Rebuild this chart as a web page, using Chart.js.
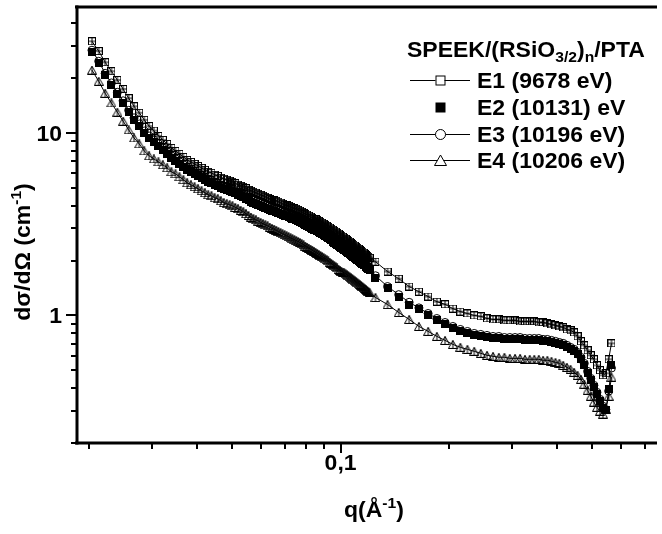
<!DOCTYPE html>
<html>
<head>
<meta charset="utf-8">
<title>SAXS curves</title>
<script src="https://cdn.jsdelivr.net/npm/chart.js@4.4.1/dist/chart.umd.min.js"></script>
<style>
   html, body { margin: 0; padding: 0; background: #fff; }
   canvas { display: block; }
</style>
</head>
<body>
<canvas id="saxsChart" width="662" height="534"></canvas>
<script>
// q values (1/A), shared by all four energies
const q = [
   0.0204, 0.0213, 0.0222, 0.0231, 0.0240, 0.0249, 0.0258, 0.0267, 0.0276, 0.0285,
   0.0294, 0.0303, 0.0312, 0.0321, 0.0330, 0.0339, 0.0348, 0.0357, 0.0366, 0.0375,
   0.0384, 0.0393, 0.0402, 0.0411, 0.0420, 0.0429, 0.0438, 0.0447, 0.0456, 0.0465,
   0.0474, 0.0483, 0.0492, 0.0501,
   0.0510, 0.0519, 0.0528, 0.0537, 0.0546, 0.0555, 0.0564, 0.0573, 0.0582, 0.0591,
   0.0600, 0.0609, 0.0618, 0.0627, 0.0636, 0.0645, 0.0654, 0.0663, 0.0672, 0.0681,
   0.0690, 0.0699, 0.0708, 0.0717, 0.0726, 0.0735, 0.0744, 0.0753, 0.0762, 0.0771,
   0.0780, 0.0789, 0.0798, 0.0807, 0.0816, 0.0825, 0.0834, 0.0843, 0.0852, 0.0861,
   0.0870, 0.0879, 0.0888, 0.0897, 0.0906, 0.0915, 0.0924, 0.0933, 0.0942, 0.0951,
   0.0960, 0.0969, 0.0978, 0.0987, 0.0996, 0.1005, 0.1014, 0.1023, 0.1032, 0.1041,
   0.1050, 0.1059, 0.1068, 0.1077, 0.1086, 0.1095, 0.1104, 0.1113, 0.1122, 0.1131,
   0.1140, 0.1149, 0.1158, 0.1167, 0.1176, 0.1185, 0.1194, 0.1203,
   0.125, 0.135, 0.145, 0.155, 0.165, 0.175, 0.185, 0.195, 0.205, 0.215,
   0.225, 0.235, 0.245, 0.255, 0.265, 0.275, 0.285, 0.295, 0.305, 0.315,
   0.325, 0.335, 0.345, 0.355, 0.365, 0.375, 0.385, 0.395, 0.405, 0.415,
   0.425, 0.435, 0.445, 0.455, 0.465, 0.475, 0.485, 0.495, 0.505, 0.515,
   0.525, 0.535, 0.545, 0.555, 0.565
];

const e1 = [
   31.8, 28.1, 24.4, 21.8, 19.5, 17.4, 15.5, 14.0, 12.9, 11.8,
   10.9, 10.3, 9.63, 9.16, 8.71, 8.28, 7.97, 7.68, 7.39, 7.12,
   6.94, 6.77, 6.60, 6.44, 6.28, 6.12, 6.05, 5.90, 5.82, 5.68,
   5.61, 5.54, 5.47, 5.40,
   5.30, 5.20, 5.13, 5.07, 4.97, 4.88, 4.82, 4.76, 4.70, 4.64,
   4.58, 4.53, 4.47, 4.41, 4.35, 4.30, 4.27, 4.25, 4.20, 4.15,
   4.09, 4.04, 4.01, 3.99, 3.94, 3.89, 3.86, 3.84, 3.79, 3.75,
   3.70, 3.65, 3.60, 3.56, 3.52, 3.48, 3.43, 3.39, 3.37, 3.35,
   3.30, 3.26, 3.22, 3.18, 3.14, 3.10, 3.06, 3.03, 2.99, 2.95,
   2.91, 2.88, 2.84, 2.81, 2.77, 2.74, 2.70, 2.67, 2.63, 2.60,
   2.57, 2.54, 2.50, 2.47, 2.44, 2.41, 2.38, 2.35, 2.32, 2.29,
   2.26, 2.24, 2.21, 2.18, 2.15, 2.13, 2.10, 2.07,
   1.97, 1.74, 1.59, 1.44, 1.35, 1.27, 1.19, 1.15, 1.09, 1.05,
   1.025, 1.0, 0.988, 0.963, 0.951, 0.951, 0.939, 0.939, 0.939, 0.927,
   0.927, 0.927, 0.927, 0.916, 0.916, 0.904, 0.893, 0.882, 0.871, 0.860,
   0.838, 0.828, 0.807, 0.768, 0.721, 0.686, 0.644, 0.605, 0.575, 0.533,
   0.501, 0.470, 0.482, 0.575, 0.703
];

const e2 = [
   27.7, 24.1, 20.7, 18.3, 16.3, 14.6, 13.0, 11.8, 10.9, 10.0,
   9.39, 8.93, 8.49, 8.07, 7.68, 7.30, 7.03, 6.77, 6.52, 6.28,
   6.12, 5.97, 5.82, 5.68, 5.54, 5.40, 5.33, 5.20, 5.13, 5.01,
   4.94, 4.88, 4.82, 4.76,
   4.67, 4.58, 4.52, 4.45, 4.36, 4.27, 4.21, 4.15, 4.09, 4.04,
   3.99, 3.94, 3.89, 3.84, 3.79, 3.75, 3.72, 3.69, 3.65, 3.61,
   3.56, 3.52, 3.49, 3.46, 3.42, 3.39, 3.36, 3.33, 3.29, 3.26,
   3.22, 3.18, 3.14, 3.10, 3.06, 3.03, 2.99, 2.95, 2.93, 2.91,
   2.87, 2.84, 2.80, 2.77, 2.73, 2.70, 2.67, 2.63, 2.58, 2.54,
   2.50, 2.47, 2.44, 2.41, 2.38, 2.35, 2.32, 2.29, 2.26, 2.24,
   2.21, 2.18, 2.15, 2.13, 2.10, 2.07, 2.04, 2.02, 1.99, 1.97,
   1.94, 1.92, 1.90, 1.88, 1.85, 1.83, 1.80, 1.78,
   1.61, 1.405, 1.27, 1.148, 1.078, 1.0, 0.939, 0.893, 0.849, 0.818,
   0.797, 0.778, 0.768, 0.758, 0.748, 0.748, 0.739, 0.739, 0.739, 0.739,
   0.730, 0.730, 0.730, 0.730, 0.721, 0.721, 0.712, 0.703, 0.694, 0.686,
   0.669, 0.652, 0.636, 0.612, 0.575, 0.533, 0.482, 0.441, 0.404, 0.370,
   0.339, 0.310, 0.302, 0.394, 0.533
];

const e3 = [
   28.4, 24.7, 21.2, 18.8, 16.7, 15.0, 13.3, 12.1, 11.2, 10.25,
   9.62, 9.15, 8.70, 8.27, 7.87, 7.48, 7.21, 6.94, 6.68, 6.44,
   6.27, 6.12, 5.97, 5.82, 5.68, 5.54, 5.46, 5.33, 5.26, 5.14,
   5.06, 5.00, 4.94, 4.88,
   4.79, 4.69, 4.63, 4.56, 4.47, 4.38, 4.32, 4.25, 4.19, 4.14,
   4.09, 4.04, 3.99, 3.94, 3.88, 3.84, 3.81, 3.78, 3.74, 3.70,
   3.65, 3.61, 3.58, 3.55, 3.51, 3.47, 3.44, 3.41, 3.37, 3.34,
   3.30, 3.26, 3.22, 3.18, 3.14, 3.11, 3.06, 3.02, 3.00, 2.98,
   2.94, 2.91, 2.87, 2.84, 2.80, 2.77, 2.74, 2.70, 2.64, 2.60,
   2.56, 2.53, 2.50, 2.47, 2.44, 2.41, 2.38, 2.35, 2.32, 2.30,
   2.27, 2.23, 2.20, 2.18, 2.15, 2.12, 2.09, 2.07, 2.04, 2.02,
   1.99, 1.97, 1.95, 1.93, 1.90, 1.88, 1.85, 1.82,
   1.65, 1.44, 1.30, 1.18, 1.10, 1.025, 0.962, 0.915, 0.870, 0.838,
   0.817, 0.797, 0.787, 0.777, 0.767, 0.767, 0.757, 0.757, 0.757, 0.757,
   0.748, 0.748, 0.748, 0.748, 0.739, 0.739, 0.730, 0.721, 0.711, 0.703,
   0.686, 0.668, 0.652, 0.627, 0.589, 0.546, 0.494, 0.452, 0.414, 0.379,
   0.347, 0.318, 0.305, 0.385, 0.515
];

const e4 = [
   22.1, 19.2, 16.5, 14.6, 13.0, 11.6, 10.4, 9.39, 8.71, 7.97,
   7.49, 7.21, 6.94, 6.69, 6.44, 6.12, 5.97, 5.75, 5.54, 5.33,
   5.20, 5.07, 4.94, 4.82, 4.70, 4.58, 4.53, 4.41, 4.36, 4.25,
   4.15, 4.09, 4.04, 3.99,
   3.91, 3.84, 3.77, 3.70, 3.61, 3.53, 3.46, 3.39, 3.34, 3.29,
   3.23, 3.18, 3.14, 3.10, 3.05, 3.00, 2.97, 2.93, 2.88, 2.84,
   2.80, 2.77, 2.73, 2.70, 2.66, 2.63, 2.60, 2.57, 2.54, 2.51,
   2.47, 2.44, 2.40, 2.37, 2.34, 2.31, 2.28, 2.25, 2.22, 2.19,
   2.16, 2.13, 2.10, 2.07, 2.04, 2.02, 1.99, 1.96, 1.93, 1.90,
   1.87, 1.85, 1.82, 1.79, 1.77, 1.75, 1.73, 1.71, 1.69, 1.67,
   1.65, 1.63, 1.61, 1.59, 1.57, 1.55, 1.53, 1.51, 1.49, 1.48,
   1.46, 1.44, 1.42, 1.405, 1.39, 1.37, 1.355, 1.34,
   1.254, 1.148, 1.038, 0.951, 0.871, 0.818, 0.768, 0.730, 0.694, 0.669,
   0.652, 0.636, 0.620, 0.605, 0.597, 0.590, 0.590, 0.582, 0.582, 0.582,
   0.575, 0.575, 0.575, 0.575, 0.568, 0.568, 0.561, 0.553, 0.547, 0.533,
   0.520, 0.507, 0.488, 0.470, 0.447, 0.420, 0.389, 0.361, 0.335, 0.314,
   0.299, 0.288, 0.306, 0.361, 0.459
];

const seriesLabels = ['E1 (9678 eV)', 'E2 (10131) eV', 'E3 (10196 eV)', 'E4 (10206 eV)'];

const xMajorTicks = [0.1];
const xTickLabels = ['0,1'];
const xMinorTicks = [0.02, 0.03, 0.04, 0.05, 0.06, 0.07, 0.08, 0.09, 0.2, 0.3, 0.4, 0.5, 0.6, 0.7];
const yMajorTicks = [1, 10];
const yTickLabels = ['1', '10'];
const yMinorTicks = [0.2, 0.3, 0.4, 0.5, 0.6, 0.7, 0.8, 0.9, 2, 3, 4, 5, 6, 7, 8, 9, 20, 30, 40];

const FONT = '"Liberation Sans", Arial, sans-serif';
const BIG = 'bold 22px ' + FONT;
const SMALL = 'bold 15px ' + FONT;
const STRETCH = 1.045; // the original text is a little wider than plain Arial

document.addEventListener('DOMContentLoaded', initApp);

function initApp() {
   drawChart();
}

function makeSymbol(kind) {
   const c = document.createElement('canvas');
   c.width = kind === 'tri' ? 10 : 8;
   c.height = kind === 'tri' ? 9 : 8;
   const g = c.getContext('2d');
   g.strokeStyle = '#000';
   g.fillStyle = '#000';
   g.lineWidth = 1;
   if (kind === 'boxcross') {
      g.strokeRect(0.5, 0.5, 7, 7);
      g.beginPath();
      g.moveTo(4, 0.5); g.lineTo(4, 7.5);
      g.moveTo(0.5, 4); g.lineTo(7.5, 4);
      g.stroke();
   } else if (kind === 'box') {
      g.fillRect(0, 0, 8, 8);
   } else if (kind === 'tri') {
      g.beginPath();
      g.moveTo(5, 0.5); g.lineTo(9.5, 8.5); g.lineTo(0.5, 8.5); g.closePath();
      g.moveTo(5, 0.5); g.lineTo(5, 8.5);
      g.stroke();
   }
   return c;
}

function toPoints(values) {
   return q.map((x, i) => ({ x: x, y: values[i] }));
}

function drawRich(ctx, parts, x, y, align) {
   let total = 0;
   parts.forEach(p => {
      ctx.font = p.kind === 'n' ? BIG : SMALL;
      total += ctx.measureText(p.t).width;
   });
   total *= STRETCH;
   ctx.save();
   ctx.translate(align === 'center' ? x - total / 2 : x, y);
   ctx.scale(STRETCH, 1);
   ctx.textAlign = 'left';
   ctx.textBaseline = 'alphabetic';
   let cx = 0;
   parts.forEach(p => {
      ctx.font = p.kind === 'n' ? BIG : SMALL;
      let dy = 0;
      if (p.kind === 'sup') dy = -9;
      if (p.kind === 'sub') dy = 5;
      ctx.fillText(p.t, cx, dy);
      cx += ctx.measureText(p.t).width;
   });
   ctx.restore();
}

function drawLegendMarker(ctx, kind, x, y) {
   ctx.lineWidth = 1;
   ctx.strokeStyle = '#000';
   ctx.fillStyle = '#fff';
   if (kind === 'box') {
      ctx.fillRect(x - 4.5, y - 4.5, 9, 9);
      ctx.strokeRect(x - 4, y - 4, 9, 9);
   } else if (kind === 'solid') {
      ctx.fillStyle = '#000';
      ctx.fillRect(x - 4.5, y - 4.5, 10, 10);
   } else if (kind === 'circle') {
      ctx.beginPath();
      ctx.arc(x + 0.5, y + 0.5, 5, 0, Math.PI * 2);
      ctx.fill();
      ctx.stroke();
   } else if (kind === 'tri') {
      ctx.beginPath();
      ctx.moveTo(x + 0.5, y - 5);
      ctx.lineTo(x + 6.5, y + 5.5);
      ctx.lineTo(x - 5.5, y + 5.5);
      ctx.closePath();
      ctx.fill();
      ctx.stroke();
   }
}

const frameAndLabels = {
   id: 'frameAndLabels',
   afterDraw(chart) {
      const { ctx, chartArea } = chart;
      const xs = chart.scales.x;
      const ys = chart.scales.y;
      const left = chartArea.left, right = chartArea.right;
      const top = chartArea.top, bottom = chartArea.bottom;

      ctx.save();
      ctx.fillStyle = '#000';

      // frame: top, left and bottom lines
      ctx.fillRect(left - 2, top - 1.5, right - left + 2, 3);
      ctx.fillRect(left - 1.5, top - 1.5, 3, bottom - top + 3);
      ctx.fillRect(left - 2, bottom - 1.5, right - left + 2, 3);

      // ticks
      yMajorTicks.forEach(v => {
         const py = Math.round(ys.getPixelForValue(v));
         ctx.fillRect(left - 11, py - 1, 11, 2);
      });
      yMinorTicks.forEach(v => {
         const py = Math.round(ys.getPixelForValue(v));
         ctx.fillRect(left - 6, py - 1, 6, 2);
      });
      xMajorTicks.forEach(v => {
         const px = Math.round(xs.getPixelForValue(v));
         ctx.fillRect(px - 1, bottom, 2, 10);
      });
      xMinorTicks.forEach(v => {
         const px = Math.round(xs.getPixelForValue(v));
         ctx.fillRect(px - 1, bottom, 2, 6);
      });

      // tick labels
      yMajorTicks.forEach((v, i) => {
         ctx.font = BIG;
         const w = ctx.measureText(yTickLabels[i]).width * STRETCH;
         drawRich(ctx, [{ t: yTickLabels[i], kind: 'n' }], left - 15 - w, ys.getPixelForValue(v) + 8, 'left');
      });
      xMajorTicks.forEach((v, i) => {
         drawRich(ctx, [{ t: xTickLabels[i], kind: 'n' }], xs.getPixelForValue(v), bottom + 27, 'center');
      });

      // axis titles
      drawRich(ctx, [
         { t: 'q(\u00C5', kind: 'n' },
         { t: '-1', kind: 'sup' },
         { t: ')', kind: 'n' }
      ], 374, 517, 'center');

      ctx.save();
      ctx.translate(30, 252);
      ctx.rotate(-Math.PI / 2);
      drawRich(ctx, [
         { t: 'd\u03C3/d\u03A9 (cm', kind: 'n' },
         { t: '-1', kind: 'sup' },
         { t: ')', kind: 'n' }
      ], 0, 0, 'center');
      ctx.restore();

      // legend
      drawRich(ctx, [
         { t: 'SPEEK/(RSiO', kind: 'n' },
         { t: '3/2', kind: 'sub' },
         { t: ')', kind: 'n' },
         { t: 'n', kind: 'sub' },
         { t: '/PTA', kind: 'n' }
      ], 407, 57, 'left');

      const rows = [80, 107, 134, 160];
      chart.data.datasets.forEach((ds, i) => {
         const ry = rows[i];
         if (ds.showLine) {
            ctx.fillStyle = '#000';
            ctx.fillRect(410, ry, 60, 1);
         }
         drawLegendMarker(ctx, ds.legendMarker, 440, ry);
         ctx.fillStyle = '#000';
         drawRich(ctx, [{ t: ds.label, kind: 'n' }], 477, ry + 8, 'left');
      });
      ctx.restore();
   }
};

function drawChart() {
   const canvas = document.getElementById('saxsChart');
   const context = canvas.getContext('2d');

   const common = {
      borderColor: '#000',
      borderWidth: 1,
      pointBorderColor: '#000',
      pointBorderWidth: 1,
      tension: 0,
   };

   new Chart(context, {
      type: 'scatter',
      data: {
         datasets: [
            Object.assign({}, common, {
               label: seriesLabels[0],
               data: toPoints(e1),
               showLine: true,
               pointStyle: makeSymbol('boxcross'),
               legendMarker: 'box',
               order: 1,
            }),
            Object.assign({}, common, {
               label: seriesLabels[1],
               data: toPoints(e2),
               showLine: false,
               pointStyle: makeSymbol('box'),
               legendMarker: 'solid',
               order: 3,
            }),
            Object.assign({}, common, {
               label: seriesLabels[2],
               data: toPoints(e3),
               showLine: true,
               pointStyle: 'circle',
               pointRadius: 4,
               pointBackgroundColor: 'rgba(0,0,0,0)',
               legendMarker: 'circle',
               order: 2,
            }),
            Object.assign({}, common, {
               label: seriesLabels[3],
               data: toPoints(e4),
               showLine: true,
               pointStyle: makeSymbol('tri'),
               legendMarker: 'tri',
               order: 4,
            }),
         ],
      },
      options: {
         responsive: false,
         animation: false,
         layout: {
            padding: { left: 77, top: 7, right: 0, bottom: 91 },
         },
         scales: {
            x: { type: 'logarithmic', min: 0.01854, max: 0.756, display: false },
            y: { type: 'logarithmic', min: 0.2, max: 49, display: false },
         },
         plugins: {
            legend: { display: false },
            tooltip: { enabled: false },
         },
      },
      plugins: [frameAndLabels],
   });
}
</script>
</body>
</html>
